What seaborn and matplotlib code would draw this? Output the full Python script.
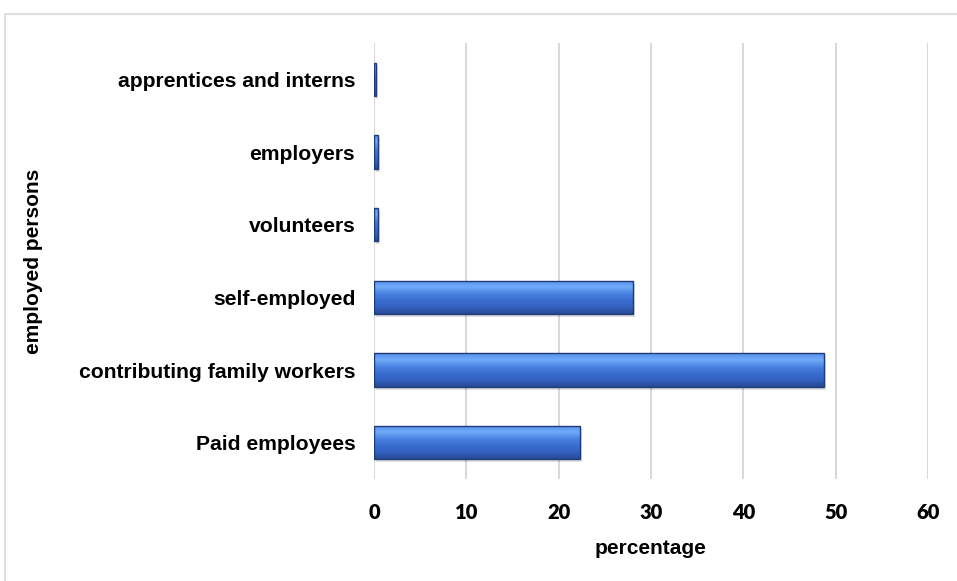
import numpy as np
import pandas as pd
import matplotlib
matplotlib.use("Agg")
import matplotlib.pyplot as plt
import matplotlib.transforms as mtransforms
from matplotlib.patches import Rectangle
import seaborn as sns

# Employment status shares (percent)
categories = [
    "apprentices and interns",
    "employers",
    "volunteers",
    "self-employed",
    "contributing family workers",
    "Paid employees",
]
percentages = [0.2, 0.4, 0.4, 28.1, 48.7, 22.3]
x_ticks = [0, 10, 20, 30, 40, 50, 60]

df = pd.DataFrame({"category": categories, "percentage": percentages})

sns.set_theme(style="white")
label_font = ["Liberation Sans", "DejaVu Sans"]
num_font = ["Lato", "DejaVu Sans"]

fig = plt.figure(figsize=(9.57, 5.81), dpi=100)
ax = fig.add_axes([374 / 957, 1 - 479 / 581, (928 - 374) / 957, (479 - 43) / 581])

sns.barplot(data=df, x="percentage", y="category", orient="h",
            color="#3A70D2", width=0.455, ax=ax, zorder=3)

ax.set_xlim(0, 60)
ax.set_ylim(5.5, -0.5)

# Bevelled vertical gradient on each bar, plus a soft drop shadow
grad_colors = np.array([
    [0.34, 0.56, 0.92],
    [0.44, 0.67, 0.98],
    [0.29, 0.51, 0.88],
    [0.23, 0.43, 0.82],
    [0.20, 0.38, 0.76],
    [0.15, 0.29, 0.58],
])
n = 64
pos = np.linspace(0, 1, len(grad_colors))
t = np.linspace(0, 1, n)
grad = np.stack([np.interp(t, pos, grad_colors[:, c]) for c in range(3)], axis=-1)
grad_img = grad[:, None, :]

shadow_offset = mtransforms.ScaledTranslation(2 / 100, -3 / 100, fig.dpi_scale_trans)
for p in list(ax.patches):
    x0, y0 = p.get_x(), p.get_y()
    w, h = p.get_width(), p.get_height()
    shadow = Rectangle((x0, y0), w, h, facecolor="#000000", alpha=0.12,
                       edgecolor="none", zorder=2,
                       transform=ax.transData + shadow_offset)
    ax.add_patch(shadow)
    im = ax.imshow(grad_img, extent=(x0, x0 + w, y0 + h, y0), aspect="auto",
                   origin="upper", zorder=3.5, interpolation="bilinear")
    im.set_clip_path(p)
    p.set_edgecolor("#1F3B78")
    p.set_linewidth(1.0)
    p.set_zorder(4)
    p.set_facecolor("none")

ax.set_xlim(0, 60)
ax.set_ylim(5.5, -0.5)

ax.set_xticks(x_ticks)
ax.set_xticklabels([str(v) for v in x_ticks], family=num_font,
                   fontweight="heavy", fontsize=14.5, color="#000000")
ax.set_yticks(range(len(categories)))
ax.set_yticklabels(categories, family=label_font, fontweight="bold",
                   fontsize=15.2, color="#000000")
ax.tick_params(axis="x", length=0, pad=17)
ax.tick_params(axis="y", length=0, pad=13.5)

ax.grid(axis="x", color="#D9D9D9", linewidth=1.5, zorder=0)
ax.grid(axis="y", visible=False)
for s in ax.spines.values():
    s.set_visible(False)

ax.set_xlabel("percentage", family=label_font, fontweight="bold",
              fontsize=15, color="#000000")
ax.set_ylabel("employed persons", family=label_font, fontweight="bold",
              fontsize=15, color="#000000")
# Axis-title placement in figure pixels
ax.xaxis.set_label_coords(651 / 957, 1 - 548 / 581, transform=fig.transFigure)
ax.xaxis.label.set_va("center")
ax.yaxis.set_label_coords(34 / 957, 1 - 261 / 581, transform=fig.transFigure)
ax.yaxis.label.set_va("center")

# Chart-area border
fig.patches.append(Rectangle((5 / 957, -0.01), 1.0, 1 - 14 / 581 + 0.01,
                             transform=fig.transFigure, fill=False,
                             edgecolor="#D9D9D9", linewidth=1.2))

fig.savefig("out.png", dpi=100)
